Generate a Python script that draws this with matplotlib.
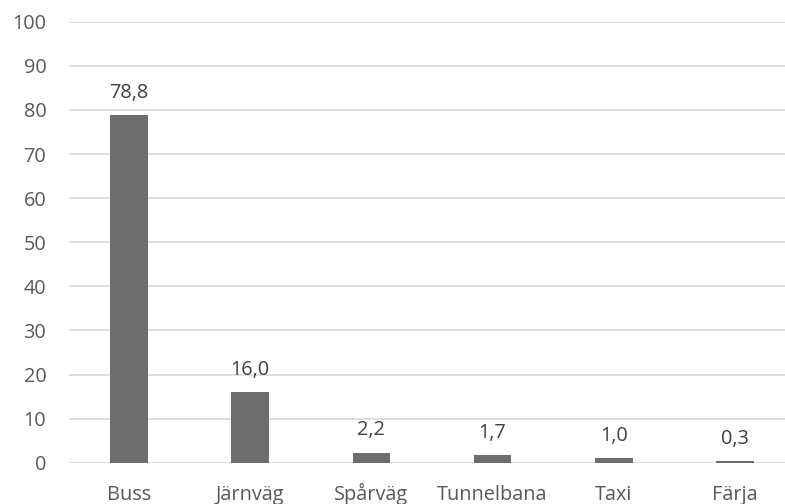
import matplotlib
matplotlib.use("Agg")
import matplotlib.pyplot as plt

categories = ["Buss", "Järnväg", "Spårväg", "Tunnelbana", "Taxi", "Färja"]
values = [78.8, 16.0, 2.2, 1.7, 1.0, 0.3]
yticks = [0, 10, 20, 30, 40, 50, 60, 70, 80, 90, 100]

plt.rcParams["font.family"] = ["Open Sans", "DejaVu Sans"]

W, H = 785, 504
fig = plt.figure(figsize=(W / 100, H / 100), dpi=100)
left, right = 68.5, 795.5
top, bottom = 21.7, 462.7
ax = fig.add_axes([left / W, 1 - bottom / H, (right - left) / W, (bottom - top) / H])

x = list(range(len(categories)))
ax.bar(x, values, width=0.31, color="#6d6d6d", zorder=3)
ax.set_xlim(-0.5, len(categories) - 0.5)
ax.set_ylim(0, 100)
ax.set_yticks(yticks)
ax.set_yticklabels([str(t) for t in yticks])
ax.set_xticks(x)
ax.set_xticklabels(categories, va="baseline")
ax.yaxis.grid(True, color="#d9d9d9", linewidth=1.2, zorder=0)
ax.set_axisbelow(True)
for s in ax.spines.values():
    s.set_visible(False)
ax.tick_params(axis="both", length=0, labelsize=14.3, colors="#595959")
ax.tick_params(axis="y", pad=16)
# baseline of category labels sits a fixed distance below the zero line
ax.tick_params(axis="x", pad=27)

for xi, v in zip(x, values):
    ax.annotate(f"{v:.1f}".replace(".", ","), (xi, v), xytext=(0, 9),
                textcoords="offset points", ha="center", va="bottom",
                fontsize=14.3, color="#404040")

fig.savefig("out.png", dpi=100)
